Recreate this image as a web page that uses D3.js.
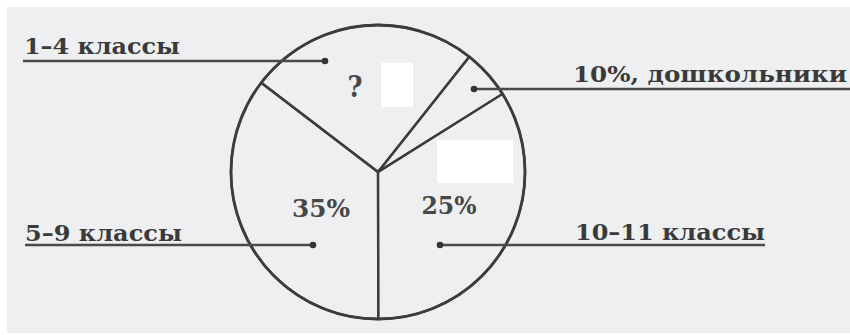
<!DOCTYPE html>
<html>
<head>
<meta charset="utf-8">
<script src="https://cdn.jsdelivr.net/npm/d3@7"></script>
<style>
  html, body { margin: 0; padding: 0; background: #ffffff; }
  svg { display: block; }
</style>
</head>
<body>
<div id="chart"></div>
<script>
// Categories in drawing order, clockwise from the upper-left radius
const CATEGORIES = ['1–4 классы', '10%, дошкольники', '10–11 классы', '5–9 классы'];
// Labels written inside the sectors
const SLICE_LABELS = ['?', '', '25%', '35%'];
// Sector sizes as drawn in the picture (degrees) – the sketch is not to scale
const DRAWN_DEGREES = [91, 19.5, 122, 127.5];
const START_DEG = -52.6;

const W = 850, H = 335;
const INK = '#3c3c3c';
const PAPER = '#eeeff0';

const center = { x: 378, y: 172 };
const R = 147;

// label layout: text box, leader line end (dot) and line start
const LABEL_LAYOUT = {
    '1–4 классы':       { tx: 24,  ty: 54, tw: 156, lineFrom: 23,  lineTo: 325, ly: 61, dot: 325 },
    '10%, дошкольники': { tx: 573, ty: 82, tw: 274, lineFrom: 474, lineTo: 850, ly: 89, dot: 474 },
    '10–11 классы':     { tx: 575, ty: 240, tw: 190, lineFrom: 440, lineTo: 765, ly: 245, dot: 440 },
    '5–9 классы':       { tx: 25,  ty: 241, tw: 157, lineFrom: 25,  lineTo: 313, ly: 245, dot: 313 },
};
const SLICE_LABEL_POS = [
    { x: 355, y: 97,  w: 15, size: 29 },
    null,
    { x: 449, y: 214, w: 55, size: 24 },
    { x: 321, y: 217, w: 58, size: 24 },
];

const svg = d3.select('#chart').append('svg')
    .attr('width', W).attr('height', H);

// scanned page
svg.append('rect')
    .attr('x', 7).attr('y', 7)
    .attr('width', W - 7).attr('height', H - 9)
    .attr('fill', PAPER);

// white paper patches covering answers
svg.append('rect').attr('x', 381).attr('y', 63).attr('width', 32).attr('height', 44).attr('fill', '#ffffff');
svg.append('rect').attr('x', 437).attr('y', 140).attr('width', 76).attr('height', 43).attr('fill', '#ffffff');

const toRad = d => d * Math.PI / 180;

const pie = d3.pie()
    .sort(null)
    .startAngle(toRad(START_DEG))
    .endAngle(toRad(START_DEG + 360));

const arc = d3.arc().innerRadius(0).outerRadius(R);

const g = svg.append('g')
    .attr('transform', `translate(${center.x},${center.y})`);

g.selectAll('path.slice')
    .data(pie(DRAWN_DEGREES))
    .join('path')
    .attr('class', 'slice')
    .attr('d', arc)
    .attr('fill', 'none')
    .attr('stroke', INK)
    .attr('stroke-width', 2.3)
    .attr('stroke-linejoin', 'round');

// circle drawn a little heavier
g.append('circle')
    .attr('r', R)
    .attr('fill', 'none')
    .attr('stroke', INK)
    .attr('stroke-width', 2.8);

const fontFamily = '"DejaVu Serif", "Liberation Serif", serif';

// slice labels
SLICE_LABELS.forEach((t, i) => {
    const p = SLICE_LABEL_POS[i];
    if (!t || !p) return;
    svg.append('text')
        .attr('x', p.x).attr('y', p.y)
        .attr('text-anchor', 'middle')
        .attr('textLength', p.w)
        .attr('lengthAdjust', 'spacingAndGlyphs')
        .style('font-family', fontFamily)
        .style('font-weight', 'bold')
        .style('font-size', p.size + 'px')
        .style('fill', '#474747')
        .text(t);
});

// category labels with leader lines
CATEGORIES.forEach(c => {
    const L = LABEL_LAYOUT[c];
    svg.append('line')
        .attr('x1', L.lineFrom).attr('x2', L.lineTo)
        .attr('y1', L.ly).attr('y2', L.ly)
        .attr('stroke', '#4a4a4a')
        .attr('stroke-width', 2.3);
    svg.append('circle')
        .attr('cx', L.dot).attr('cy', L.ly)
        .attr('r', 3.3)
        .attr('fill', '#333');
    svg.append('text')
        .attr('x', L.tx).attr('y', L.ty)
        .attr('textLength', L.tw)
        .attr('lengthAdjust', 'spacingAndGlyphs')
        .style('font-family', fontFamily)
        .style('font-weight', 'bold')
        .style('font-size', '22px')
        .style('fill', '#3a3a3a')
        .text(c);
});
</script>
</body>
</html>
